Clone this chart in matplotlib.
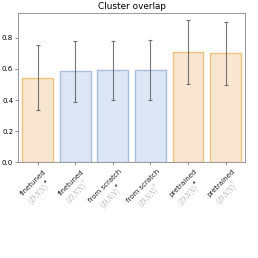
import matplotlib
matplotlib.use('Agg')
import matplotlib.pyplot as plt
import matplotlib.transforms as mtransforms
from matplotlib.textpath import TextPath
from matplotlib.font_manager import FontProperties
import numpy as np

plt.rcParams['mathtext.fontset'] = 'cm'

# Data
methods = ['finetuned', 'finetuned', 'from scratch', 'from scratch', 'pretrained', 'pretrained']
marks = [r'$\star$', r'$\dagger$', r'$\star$', r'$\dagger$', r'$\star$', r'$\dagger$']
mark_colors = ['#222222', '#aaaaaa', '#222222', '#aaaaaa', '#222222', '#aaaaaa']
overlap = [0.544, 0.587, 0.591, 0.596, 0.712, 0.701]
err_low = [0.335, 0.385, 0.400, 0.400, 0.505, 0.495]
err_high = [0.753, 0.783, 0.779, 0.787, 0.916, 0.901]
groups = ['orange', 'blue', 'blue', 'blue', 'orange', 'orange']

fills = {'orange': '#f8e6d2', 'blue': '#dce6f5'}
edges = {'orange': '#eec47a', 'blue': '#a9bedf'}

fig = plt.figure(figsize=(2.58, 2.58), dpi=100)
ax = fig.add_axes([0.07, 0.372, 0.88, 0.578])

x = np.arange(len(overlap))
vals = np.array(overlap)
yerr = [vals - np.array(err_low), np.array(err_high) - vals]
ax.bar(x, vals, width=0.82,
       color=[fills[g] for g in groups],
       edgecolor=[edges[g] for g in groups], linewidth=1.0)
ax.errorbar(x, vals, yerr=yerr, fmt='none', ecolor='#555555',
            elinewidth=0.8, capsize=1.5, capthick=0.8, alpha=0.8)

ax.set_xlim(-0.52, 5.52)
ax.set_title('Cluster overlap', fontsize=6.4, pad=2.5)
ax.set_yticks([0.0, 0.2, 0.4, 0.6, 0.8])
ax.tick_params(axis='both', labelsize=5, length=2, width=0.5, pad=1.5, color='#666666')
ax.set_xticks(x)
ax.set_xticklabels([''] * len(x))
for s in ax.spines.values():
    s.set_color('#888888')
    s.set_linewidth(0.6)

# two-line rotated labels: black method name, grey (DNN) with a mark
fs = 5.0
fs_dnn = 5.5
fs_mark = 4.5
c = np.sqrt(0.5)
u = np.array([c, c])      # along the text
d = np.array([c, -c])     # to the next line


def text_width(s, size):
    return TextPath((0, 0), s, size=size, prop=FontProperties(size=size)).get_extents().width


def put(xi, pos, s, size, color):
    tr = ax.get_xaxis_transform() + mtransforms.ScaledTranslation(
        pos[0] / 72, pos[1] / 72, fig.dpi_scale_trans)
    ax.text(xi, 0, s, transform=tr, fontsize=size, color=color,
            rotation=45, rotation_mode='anchor', ha='center', va='center')


dnn = r'$(DNN)$'
for xi, m, mk, mc in zip(x, methods, marks, mark_colors):
    right = np.array([5.5, -6.5])
    c1 = right - text_width(m, fs) / 2 * u
    put(xi, c1, m, fs, '#222222')
    c2 = c1 + 8.5 * d - 2.0 * u
    ld = text_width(dnn, fs_dnn)
    lm = text_width(mk, fs_mark)
    start = c2 - (ld + lm) / 2 * u
    put(xi, start + ld / 2 * u, dnn, fs_dnn, '#aaaaaa')
    put(xi, start + (ld + lm / 2 + 0.3) * u - 3.0 * d, mk, fs_mark, mc)

fig.savefig('out.png', dpi=100)
